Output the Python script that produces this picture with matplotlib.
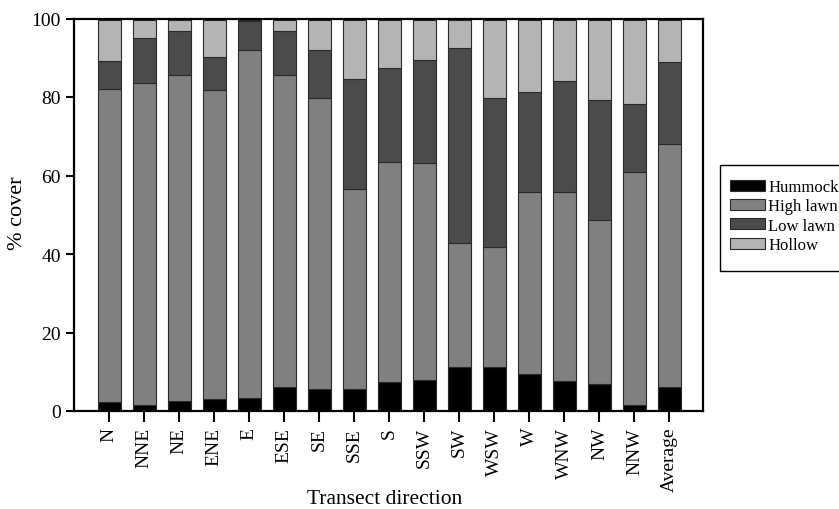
import matplotlib
matplotlib.use("Agg")
import matplotlib.pyplot as plt
from matplotlib.patches import Rectangle
import numpy as np

plt.rcParams['font.family'] = ['Liberation Serif', 'DejaVu Serif']

directions = ["N", "NNE", "NE", "ENE", "E", "ESE", "SE", "SSE", "S", "SSW",
              "SW", "WSW", "W", "WNW", "NW", "NNW", "Average"]

# % cover of each microform class along each transect
hummock = [2.4, 1.5, 2.5, 3.0, 3.2, 6.2, 5.5, 5.5, 7.3, 7.8,
           11.2, 11.2, 9.5, 7.7, 7.0, 1.5, 6.0]
high_lawn = [79.7, 82.0, 83.2, 78.7, 88.8, 79.5, 74.2, 51.0, 56.1, 55.3,
             31.5, 30.6, 46.2, 48.2, 41.6, 59.5, 61.9]
low_lawn = [7.0, 11.5, 11.0, 8.6, 7.4, 11.2, 12.4, 28.1, 23.9, 26.4,
            49.7, 38.0, 25.6, 28.1, 30.7, 17.1, 21.0]
hollow = [10.4, 4.5, 2.8, 9.2, 0.1, 2.6, 7.4, 14.9, 12.2, 10.0,
          7.1, 19.7, 18.2, 15.5, 20.2, 21.4, 10.6]

series = [("Hummock", hummock, "#000000"),
          ("High lawn", high_lawn, "#808080"),
          ("Low lawn", low_lawn, "#4b4b4b"),
          ("Hollow", hollow, "#b4b4b4")]

W, H = 839, 510
fig = plt.figure(figsize=(W / 100, H / 100), dpi=100)
ax = fig.add_axes([74 / W, 1 - 412 / H, (703 - 74) / W, (412 - 19.5) / H])

x = np.arange(len(directions))
bottom = np.zeros(len(directions))
handles = []
for name, vals, color in series:
    vals = np.array(vals)
    h = ax.bar(x, vals, width=0.67, bottom=bottom, color=color,
               edgecolor="#2a2a2a", linewidth=0.8, label=name)
    handles.append(h)
    bottom += vals

ax.set_xlim(-1.01, 16.96)
ax.set_ylim(0, 100)
ax.set_yticks([0, 20, 40, 60, 80, 100])
ax.set_xticks(x)
ax.set_xticklabels(directions, rotation=90, fontsize=14)
ax.tick_params(axis='y', labelsize=14, direction='out', length=6, width=1.5)
ax.tick_params(axis='x', direction='out', length=8, width=1.5)
for s in ax.spines.values():
    s.set_linewidth(1.6)

# axis titles
fig.text(17 / W, 1 - 213 / H, "% cover", fontsize=16, rotation=90,
         ha='center', va='center')
fig.text(385 / W, 1 - 500 / H, "Transect direction", fontsize=15.5,
         ha='center', va='center')

# legend outside the plot area, with its box running off the right edge
leg = fig.legend(handles=handles, loc="upper left",
                 bbox_to_anchor=(720 / W, 1 - 170 / H),
                 borderaxespad=0,
                 fontsize=12, frameon=False,
                 handlelength=2.1, handleheight=0.65,
                 handletextpad=0.2, labelspacing=0.2, borderpad=0.6)
fig.add_artist(Rectangle((720 / W, 1 - 272 / H), 130 / W, (272 - 166) / H,
                         transform=fig.transFigure, fill=False,
                         edgecolor="black", linewidth=1.0, clip_on=False))

fig.savefig("out.png", dpi=100)
